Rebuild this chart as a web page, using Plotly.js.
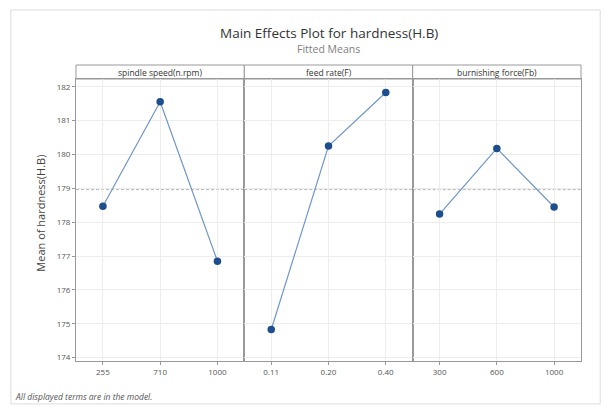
<!DOCTYPE html>
<html>
<head>
<meta charset="utf-8">
<script src="https://cdn.plot.ly/plotly-3.0.1.min.js"></script>
<style>html,body{margin:0;padding:0;background:#fff;}#chart{width:605px;height:407px;}</style>
</head>
<body>
<div id="chart"></div>
<script>
// ---- data ----
const factorNames = ["spindle speed(n.rpm)", "feed rate(F)", "burnishing force(Fb)"];
const spindleLevels = ["255", "710", "1000"];
const spindleMeans = [178.47, 181.56, 176.85];
const feedLevels = ["0.11", "0.20", "0.40"];
const feedMeans = [174.83, 180.25, 181.83];
const forceLevels = ["300", "600", "1000"];
const forceMeans = [178.24, 180.18, 178.45];
const yTicks = [174, 175, 176, 177, 178, 179, 180, 181, 182];

const levels = [spindleLevels, feedLevels, forceLevels];
const means = [spindleMeans, feedMeans, forceMeans];
const grandMean = spindleMeans.concat(feedMeans, forceMeans).reduce((a, b) => a + b, 0) / 9;

const FONT = "Open Sans, Noto Sans, sans-serif";
const traces = levels.map((lv, i) => ({
  type: "scatter", mode: "lines+markers",
  x: lv, y: means[i],
  xaxis: i === 0 ? "x" : "x" + (i + 1),
  yaxis: i === 0 ? "y" : "y" + (i + 1),
  line: { color: "#6f97c9", width: 1.2 },
  marker: { color: "#1d4f8f", size: 7.5 },
  hoverinfo: "x+y", showlegend: false
}));

const doms = [[0, 0.3333], [0.3333, 0.6667], [0.6667, 1]];
const yTop = 0.9527;
const layout = {
  width: 605, height: 407,
  margin: { l: 76, r: 24, t: 65, b: 46 },
  paper_bgcolor: "#fff", plot_bgcolor: "#fff",
  font: { family: FONT, color: "#444", size: 9 },
  shapes: [], annotations: []
};
for (let i = 0; i < 3; i++) {
  const xk = i === 0 ? "xaxis" : "xaxis" + (i + 1);
  const yk = i === 0 ? "yaxis" : "yaxis" + (i + 1);
  const ya = i === 0 ? "y" : "y" + (i + 1);
  layout[xk] = {
    domain: doms[i], anchor: ya, type: "category",
    range: [-0.47, 2.47], fixedrange: true,
    showgrid: true, gridcolor: "#ededed", gridwidth: 1,
    showline: true, linecolor: "#999", linewidth: 1, mirror: true,
    ticks: "outside", ticklen: 3, tickcolor: "#999",
    tickfont: { family: FONT, size: 8, color: "#555" }, zeroline: false
  };
  layout[yk] = {
    domain: [0, yTop], anchor: i === 0 ? "x" : "x" + (i + 1),
    range: [173.9, 182.23], fixedrange: true,
    tickvals: yTicks, showticklabels: i === 0,
    showgrid: true, gridcolor: "#ededed", gridwidth: 1,
    showline: true, linecolor: "#999", linewidth: 1, mirror: true,
    ticks: i === 0 ? "outside" : "", ticklen: 3, tickcolor: "#999",
    tickfont: { family: FONT, size: 8, color: "#555" }, zeroline: false
  };
  if (i > 0) layout[yk].matches = "y";
  // strip header
  layout.shapes.push({
    type: "rect", xref: "paper", yref: "paper",
    x0: doms[i][0], x1: doms[i][1], y0: yTop, y1: 1,
    line: { color: "#999", width: 1 }, fillcolor: "#fff", layer: "below"
  });
  layout.annotations.push({
    xref: "paper", yref: "paper", x: (doms[i][0] + doms[i][1]) / 2, y: (yTop + 1) / 2,
    text: factorNames[i], showarrow: false, xanchor: "center", yanchor: "middle",
    font: { family: FONT, size: 8.5, color: "#333" }
  });
  // reference line (grand mean)
  layout.shapes.push({
    type: "line", xref: (i === 0 ? "x" : "x" + (i + 1)) + " domain", yref: ya,
    x0: 0, x1: 1, y0: grandMean, y1: grandMean,
    line: { color: "#b5b5b5", width: 1, dash: "3px,2px" }, layer: "below"
  });
}
// outer frame
layout.shapes.push({
  type: "rect", xref: "paper", yref: "paper",
  x0: -0.129, x1: 1.038, y0: -0.145, y1: 1.186,
  line: { color: "#dcdcdc", width: 1 }, fillcolor: "rgba(0,0,0,0)", layer: "below"
});
layout.annotations.push(
  { xref: "paper", yref: "paper", x: 0.5, y: 1.108, text: "Main Effects Plot for hardness(H.B)",
    showarrow: false, xanchor: "center", yanchor: "middle", font: { family: FONT, size: 13.5, color: "#333" } },
  { xref: "paper", yref: "paper", x: 0.5, y: 1.054, text: "Fitted Means",
    showarrow: false, xanchor: "center", yanchor: "middle", font: { family: FONT, size: 10.5, color: "#808080" } },
  { xref: "paper", yref: "paper", x: -0.072, y: 0.5, text: "Mean of hardness(H.B)", textangle: -90,
    showarrow: false, xanchor: "center", yanchor: "middle", font: { family: FONT, size: 11, color: "#444" } },
  { xref: "paper", yref: "paper", x: -0.125, y: -0.12, text: "<i>All displayed terms are in the model.</i>",
    showarrow: false, xanchor: "left", yanchor: "middle", font: { family: FONT, size: 8.5, color: "#555" } }
);

Plotly.newPlot("chart", traces, layout, { displayModeBar: false, staticPlot: true });
</script>
</body>
</html>
